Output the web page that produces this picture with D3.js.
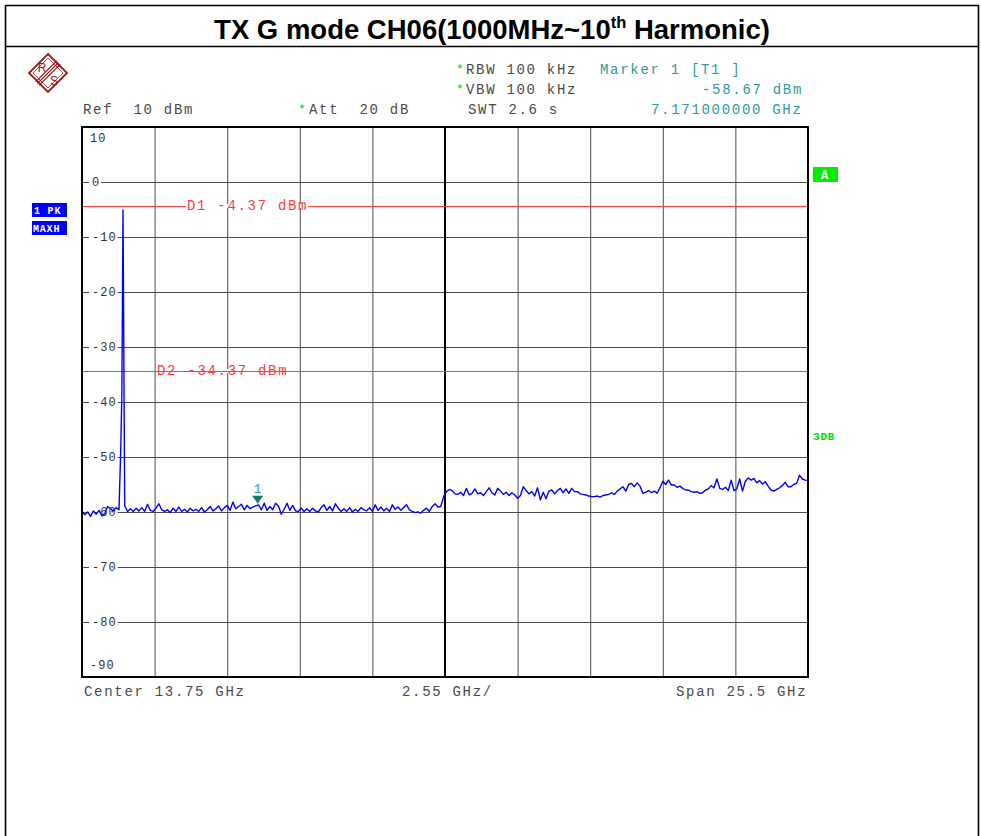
<!DOCTYPE html>
<html><head><meta charset="utf-8">
<script src="https://cdn.jsdelivr.net/npm/d3@7/dist/d3.min.js"></script>
<style>body{margin:0;background:#fff;} svg{display:block;}</style>
</head><body>
<svg id="c" width="981" height="836"></svg>
<script>
// ---------- data ----------
const titleMain = "TX G mode CH06(1000MHz~10";
const titleSup = "th";
const titleEnd = " Harmonic)";

const yTicks = [10, 0, -10, -20, -30, -40, -50, -60, -70, -80, -90];
const yTickLabels = ["10", "0", "-10", "-20", "-30", "-40", "-50", "-60", "-70", "-80", "-90"];
const xGridGHz = [1.0, 3.55, 6.1, 8.65, 11.2, 13.75, 16.3, 18.85, 21.4, 23.95, 26.5];

const freqStartGHz = 1.0, freqStopGHz = 26.5, sweepStepGHz = 0.1;
// level (dBm) every 0.1 GHz from 1.0 GHz to 26.5 GHz
const traceLevels = [
  -59.9,-60.5,-60.0,-60.8,-59.8,-60.4,-59.7,-60.7,-60.3,-59.0,   // 1.0
  -59.4,-59.8,-59.2,-59.6,-38.7,-58.9,-59.9,-59.4,-59.9,-59.3,   // 2.0
  -59.8,-59.2,-59.9,-58.6,-59.7,-59.9,-59.3,-58.5,-59.6,-59.9,   // 3.0
  -59.6,-60.1,-59.3,-59.9,-59.1,-59.9,-59.5,-60.0,-59.3,-59.8,   // 4.0
  -59.5,-59.9,-59.2,-60.0,-59.6,-59.0,-59.8,-59.4,-58.9,-59.8,   // 5.0
  -59.2,-58.8,-59.7,-58.2,-59.4,-59.0,-58.6,-59.6,-58.8,-59.4,   // 6.0
  -59.1,-58.9,-58.7,-59.6,-58.4,-59.7,-59.0,-59.6,-58.4,-58.9,   // 7.0
  -60.4,-59.5,-58.4,-59.7,-58.8,-59.8,-59.9,-59.3,-59.9,-59.4,   // 8.0
  -59.9,-59.3,-59.8,-60.0,-59.2,-58.7,-59.7,-59.0,-59.8,-58.5,   // 9.0
  -59.3,-59.9,-59.4,-59.9,-59.2,-60.0,-59.5,-59.9,-59.2,-59.6,   // 10.0
  -59.8,-59.2,-59.9,-58.7,-59.7,-59.1,-59.8,-59.3,-59.9,-58.7,   // 11.0
  -59.5,-59.1,-59.7,-59.2,-58.7,-59.6,-59.9,-60.1,-60.0,-60.2,   // 12.0
  -59.7,-59.3,-59.9,-59.0,-58.5,-59.1,-59.0,-57.2,-56.3,-55.9,   // 13.0
  -56.1,-56.7,-56.8,-56.4,-57.0,-55.7,-56.9,-56.6,-55.8,-56.7,   // 14.0
  -56.5,-57.0,-56.3,-55.6,-56.5,-56.9,-55.7,-56.2,-56.8,-56.4,   // 15.0
  -57.0,-56.5,-56.9,-57.5,-57.0,-55.4,-56.1,-56.7,-56.3,-57.1,   // 16.0
  -55.6,-57.8,-56.4,-57.6,-56.2,-56.0,-56.7,-56.1,-55.7,-56.5,   // 17.0
  -55.8,-56.6,-55.7,-56.3,-56.3,-56.7,-56.8,-56.9,-57.1,-57.2,   // 18.0
  -57.2,-57.1,-57.3,-57.0,-56.9,-56.8,-56.5,-56.8,-56.2,-55.8,   // 19.0
  -55.4,-56.2,-55.0,-54.8,-55.4,-54.7,-55.3,-56.6,-56.4,-56.1,   // 20.0
  -56.5,-56.2,-56.6,-55.6,-54.4,-55.0,-54.2,-55.1,-55.1,-55.5,   // 21.0
  -55.3,-55.7,-56.0,-56.0,-56.3,-56.4,-56.3,-56.6,-56.5,-56.0,   // 22.0
  -55.8,-55.2,-55.6,-54.0,-55.7,-55.9,-55.5,-56.1,-54.2,-56.1,   // 23.0
  -55.8,-54.0,-56.2,-54.4,-53.8,-54.2,-53.9,-54.7,-54.3,-54.9,   // 24.0
  -54.5,-55.3,-56.0,-56.2,-55.9,-55.6,-55.2,-54.6,-55.4,-55.4,   // 25.0
  -55.0,-54.8,-53.3,-54.0,-54.2,-54.3                            // 26.0
];
// extra sweep points on the 2.437 GHz carrier
const carrierFreqsGHz = [2.36, 2.44, 2.47];
const carrierLevels = [-48.8, -5.1, -31.8];

const lineNames = ["D1", "D2"];
const lineLevels = [-4.37, -34.37];

const markerFreqGHz = 7.171;
const markerLevel = -58.67;

// ---------- layout ----------
const svg = d3.select("#c");
const W = 981, H = 836;
const plot = {l: 82, r: 808, t: 127, b: 677};
const x = d3.scaleLinear().domain([freqStartGHz, freqStopGHz]).range([plot.l, plot.r]);
const y = d3.scaleLinear().domain([-90, 10]).range([plot.b, plot.t]);

const mono = "'Liberation Mono','DejaVu Sans Mono',monospace";
const gray = "#4a4a4a", teal = "#2f9a9a", red = "#ff3a3a", green = "#00d000";

svg.append("rect").attr("width", W).attr("height", H).attr("fill", "#fff");

// outer frame
const frame = svg.append("g").attr("stroke", "#000").attr("stroke-width", 1.6).attr("fill", "none");
frame.append("line").attr("x1", 5.5).attr("x2", 978.5).attr("y1", 5.5).attr("y2", 5.5);
frame.append("line").attr("x1", 5.5).attr("x2", 978.5).attr("y1", 46.5).attr("y2", 46.5);
frame.append("line").attr("x1", 5.5).attr("x2", 5.5).attr("y1", 5).attr("y2", H);
frame.append("line").attr("x1", 978.5).attr("x2", 978.5).attr("y1", 5).attr("y2", H);

// title
const title = svg.append("text").attr("x", 492).attr("y", 39).attr("text-anchor", "middle")
  .attr("font-family", "'Liberation Sans',Arial,sans-serif").attr("font-weight", "bold")
  .attr("font-size", 27.5).attr("fill", "#000");
title.append("tspan").text(titleMain);
title.append("tspan").attr("font-size", 16.5).attr("dy", -11).text(titleSup);
title.append("tspan").attr("dy", 11).text(titleEnd);

// R&S logo
const logo = svg.append("g").attr("transform", "translate(48,73)");
const lr = 19, logoCol = "#9a1a1a";
logo.append("polygon").attr("points", `0,${-lr} ${lr},0 0,${lr} ${-lr},0`)
  .attr("fill", "none").attr("stroke", logoCol).attr("stroke-width", 1.8);
logo.append("polygon").attr("points", `0,${-lr+4} ${lr-4},0 0,${lr-4} ${-lr+4},0`)
  .attr("fill", "none").attr("stroke", logoCol).attr("stroke-width", 0.8);
[-2.5, 0, 2.5].forEach(o => {
  logo.append("line").attr("x1", -lr/2 - 1 + o*0.7).attr("y1", lr/2 + 1 + o*0.7)
    .attr("x2", lr/2 + 1 + o*0.7).attr("y2", -lr/2 - 1 + o*0.7)
    .attr("stroke", logoCol).attr("stroke-width", 1.1);
});
logo.append("text").attr("x", -6).attr("y", -1).attr("font-family", "'Liberation Sans',Arial,sans-serif")
  .attr("font-size", 12).attr("fill", logoCol).attr("text-anchor", "middle").text("R");
logo.append("text").attr("x", 6).attr("y", 12).attr("font-family", "'Liberation Sans',Arial,sans-serif")
  .attr("font-size", 12).attr("fill", logoCol).attr("text-anchor", "middle").text("S");

// header texts
function monoText(g, tx, ty, str, col, size, ls) {
  return g.append("text").attr("x", tx).attr("y", ty).attr("font-family", mono)
    .attr("font-size", size || 14).attr("letter-spacing", (ls === undefined ? 1.7 : ls) + "px")
    .attr("fill", col).attr("xml:space", "preserve").style("white-space", "pre").text(str);
}
const hdr = svg.append("g");
monoText(hdr, 456, 73, "*", green, 13, 0);
monoText(hdr, 466, 74, "RBW 100 kHz", gray);
monoText(hdr, 456, 93, "*", green, 13, 0);
monoText(hdr, 466, 94, "VBW 100 kHz", gray);
monoText(hdr, 600, 74, "Marker 1 [T1 ]", teal);
monoText(hdr, 702, 94, "-58.67 dBm", teal);
monoText(hdr, 83, 114, "Ref  10 dBm", gray);
monoText(hdr, 298, 113, "*", green, 13, 0);
monoText(hdr, 309, 114, "Att  20 dB", gray);
monoText(hdr, 468, 114, "SWT 2.6 s", gray);
monoText(hdr, 651, 114, "7.171000000 GHz", teal);

// grid
const grid = svg.append("g");
grid.append("g").attr("transform", `translate(${plot.l},0)`)
  .call(d3.axisLeft(y).tickValues(yTicks.slice(1, -1)).tickSize(-(plot.r - plot.l)).tickFormat(""))
  .call(g => g.select(".domain").remove())
  .call(g => g.selectAll(".tick line").attr("stroke", "#4d4d4d").attr("stroke-width", 1));
grid.append("g").attr("transform", `translate(0,${plot.b})`)
  .call(d3.axisBottom(x).tickValues(xGridGHz.slice(1, -1)).tickSize(-(plot.b - plot.t)).tickFormat(""))
  .call(g => g.select(".domain").remove())
  .call(g => g.selectAll(".tick line").attr("stroke", "#4d4d4d").attr("stroke-width", 1));
// centre line
grid.append("line").attr("x1", x(xGridGHz[5])).attr("x2", x(xGridGHz[5]))
  .attr("y1", plot.t).attr("y2", plot.b).attr("stroke", "#000").attr("stroke-width", 2);

// y labels
const ylab = svg.append("g");
yTicks.forEach((v, i) => {
  let ty, tx = 92;
  if (i === 0) { ty = y(v) + 15; tx = 90; }
  else if (i === yTicks.length - 1) { ty = y(v) - 8; tx = 90; }
  else ty = y(v) + 4;
  const t = monoText(ylab, tx, ty, yTickLabels[i], "#333", 12, 1);
  if (i > 0 && i < yTicks.length - 1) {
    const w = t.node().getComputedTextLength();
    ylab.insert("rect", "text").attr("x", tx - 3).attr("y", y(v) - 2).attr("width", w + 4).attr("height", 4).attr("fill", "#fff");
  }
});

// display lines
const dl = svg.append("g");
const dlLabelX = [187, 157];
lineLevels.forEach((lv, i) => {
  dl.append("line").attr("x1", plot.l).attr("x2", plot.r).attr("y1", Math.round(y(lv)) + 0.5).attr("y2", Math.round(y(lv)) + 0.5)
    .attr("stroke", red).attr("stroke-width", 1);
  const str = `${lineNames[i]} ${lv.toFixed(2)} dBm`;
  const t = monoText(dl, dlLabelX[i], y(lv) + 4, str, red, 14, 1.7);
  const w = t.node().getComputedTextLength();
  dl.insert("rect", "text").attr("x", dlLabelX[i] - 1).attr("y", y(lv) - 2).attr("width", w + 1).attr("height", 4).attr("fill", "#fff");
});

// trace
const pts = traceLevels.map((v, i) => [freqStartGHz + i * sweepStepGHz, v]);
carrierFreqsGHz.forEach((f, i) => pts.push([f, carrierLevels[i]]));
pts.sort((a, b) => a[0] - b[0]);
svg.append("defs").append("clipPath").attr("id", "clip").append("rect")
  .attr("x", plot.l).attr("y", plot.t).attr("width", plot.r - plot.l).attr("height", plot.b - plot.t);
svg.append("path").datum(pts).attr("clip-path", "url(#clip)")
  .attr("d", d3.line().x(d => x(d[0])).y(d => y(d[1])))
  .attr("fill", "none").attr("stroke", "#0000ff").attr("stroke-width", 1.4).attr("stroke-linejoin", "round");

// marker
const mx = x(markerFreqGHz), my = y(markerLevel);
svg.append("polygon").attr("points", `${mx - 5.5},${my - 9} ${mx + 5.5},${my - 9} ${mx},${my - 1}`).attr("fill", "#137a7a");
monoText(svg, mx - 4, my - 12, "1", teal, 13, 0);

// plot frame
svg.append("rect").attr("x", plot.l).attr("y", plot.t).attr("width", plot.r - plot.l).attr("height", plot.b - plot.t)
  .attr("fill", "none").attr("stroke", "#000").attr("stroke-width", 2);

// side labels
const side = svg.append("g");
side.append("rect").attr("x", 32).attr("y", 203).attr("width", 35).attr("height", 14).attr("fill", "#0000ff");
side.append("rect").attr("x", 32).attr("y", 221).attr("width", 35).attr("height", 14).attr("fill", "#0000ff");
monoText(side, 34, 214, "1 PK", "#fff", 10, 0.8).attr("font-weight", "bold");
monoText(side, 33, 232, "MAXH", "#fff", 10, 0.8).attr("font-weight", "bold");
side.append("rect").attr("x", 813).attr("y", 167).attr("width", 25).attr("height", 15).attr("fill", "#00ee00");
monoText(side, 821, 179, "A", "#fff", 12, 0).attr("font-weight", "bold");
monoText(side, 813, 440, "3DB", "#00dd00", 11, 0.8).attr("font-weight", "bold");

// bottom labels
const bot = svg.append("g");
monoText(bot, 84, 696, "Center 13.75 GHz", gray);
monoText(bot, 402, 696, "2.55 GHz/", gray);
monoText(bot, 676, 696, "Span 25.5 GHz", gray);
</script>
</body></html>
